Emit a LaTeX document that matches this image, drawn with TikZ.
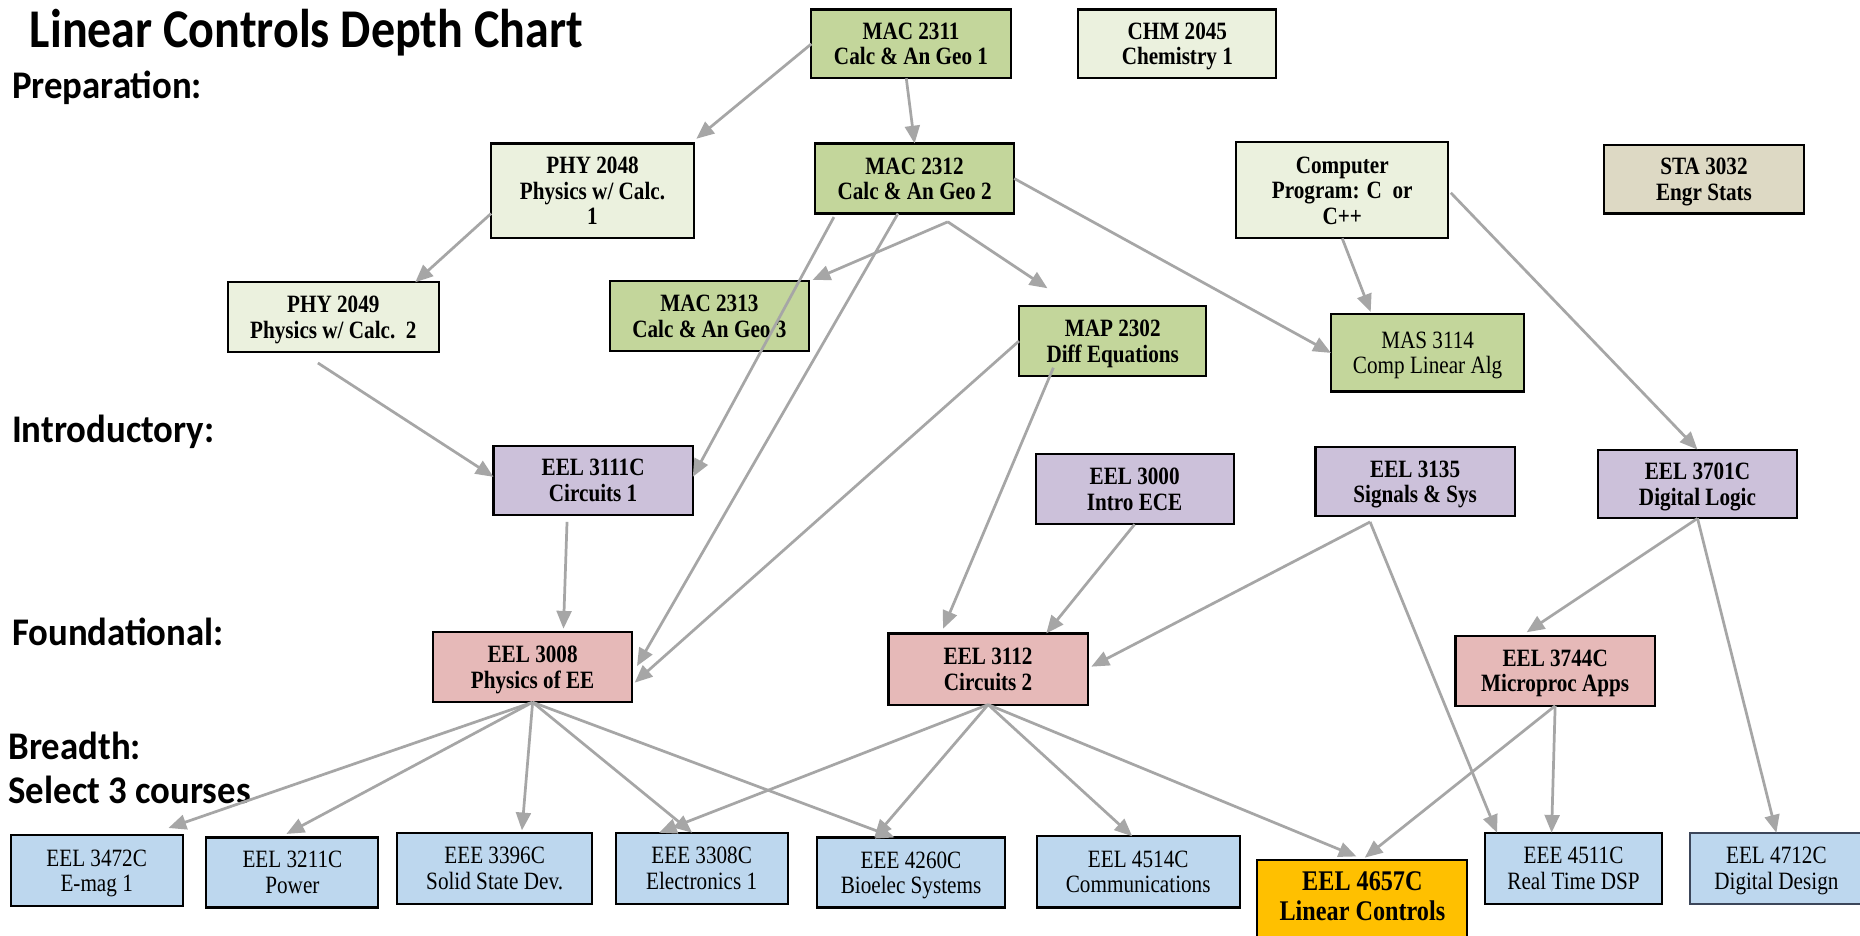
\documentclass[tikz,border=0pt]{standalone}
\usepackage{fontspec}
\usetikzlibrary{arrows.meta}
\newfontfamily\boxfont[FakeStretch=0.85]{Liberation Serif}
\newfontfamily\headfont[FakeStretch=0.88]{Carlito}
\newfontfamily\secfont[FakeStretch=0.94]{Carlito}
\definecolor{cgreen}{HTML}{C3D69B}
\definecolor{clight}{HTML}{EBF1DE}
\definecolor{ctan}{HTML}{DDD9C4}
\definecolor{cpurple}{HTML}{CCC1DA}
\definecolor{cpink}{HTML}{E6B9B8}
\definecolor{cblue}{HTML}{BDD7EE}
\definecolor{cgold}{HTML}{FFC000}
\definecolor{carrow}{HTML}{A6A6A6}
\definecolor{cbord}{HTML}{3C465A}
\tikzset{
  crs/.style={draw=black, line width=1.8pt, inner sep=0pt, outer sep=0pt, align=center, text depth=0pt,
    font=\boxfont\bfseries\fontsize{21}{21.5}\selectfont},
  crsn/.style={crs, font=\boxfont\fontsize{21}{21.5}\selectfont},
  lvl/.style={anchor=base west, inner sep=0pt, font=\secfont\bfseries\fontsize{33}{36}\selectfont},
  arr/.style={draw=carrow, line width=2.3pt, -{Triangle[length=15pt,width=12.5pt]}},
}
\begin{document}
\begin{tikzpicture}[x=1pt,y=-1pt]
\useasboundingbox[fill=white] (0,0) rectangle (1568,789);
% headings
\node[anchor=base west, inner sep=0pt, font=\headfont\bfseries\fontsize{46}{50}\selectfont] (title) at (25,40) {Linear Controls Depth Chart};
\node[lvl] (prep) at (10,83) {Preparation:};
\node[lvl] (intro) at (10,373) {Introductory:};
\node[lvl] (found) at (10,544) {Foundational:};
\node[lvl] (bread) at (7,640) {Breadth:};
\node[lvl] (sel) at (7,677) {Select 3 courses};
% preparation
\node[crs, fill=cgreen, minimum width=168pt, minimum height=58pt] (mac2311) at (768,37) {MAC 2311\\Calc \& An Geo 1};
\node[crs, fill=clight, minimum width=167pt, minimum height=58pt] (chm2045) at (992.5,37) {CHM 2045\\Chemistry 1};
\node[crs, fill=clight, minimum width=171pt, minimum height=80pt] (phy2048) at (499.5,161) {PHY 2048\\Physics w/ Calc.\\1};
\node[crs, fill=cgreen, minimum width=168pt, minimum height=59pt] (mac2312) at (771,150.5) {MAC 2312\\Calc \& An Geo 2};
\node[crs, fill=clight, minimum width=179pt, minimum height=81pt] (comp) at (1131.5,160.5) {Computer\\Program: C\ \ or\\C++};
\node[crs, fill=ctan, minimum width=169pt, minimum height=58pt] (sta) at (1436.5,151) {STA 3032\\Engr Stats};
\node[crs, fill=clight, minimum width=178pt, minimum height=59pt] (phy2049) at (281,267.5) {PHY 2049\\Physics w/ Calc.\ \ 2};
\node[crs, fill=cgreen, minimum width=168pt, minimum height=59pt] (mac2313) at (598,266.5) {MAC 2313\\Calc \& An Geo 3};
\node[crs, fill=cgreen, minimum width=158pt, minimum height=59pt] (map2302) at (938,287.5) {MAP 2302\\Diff Equations};
\node[crsn, fill=cgreen, minimum width=163pt, minimum height=65pt] (mas3114) at (1203.5,297.5) {MAS 3114\\Comp Linear Alg};
% introductory
\node[crs, fill=cpurple, minimum width=168pt, minimum height=58pt] (eel3111) at (500,405) {EEL 3111C\\Circuits 1};
\node[crs, fill=cpurple, minimum width=167pt, minimum height=59pt] (eel3000) at (956.5,412.5) {EEL 3000\\Intro ECE};
\node[crs, fill=cpurple, minimum width=168pt, minimum height=58pt] (eel3135) at (1193,406) {EEL 3135\\Signals \& Sys};
\node[crs, fill=cpurple, minimum width=168pt, minimum height=58pt] (eel3701) at (1431,408) {EEL 3701C\\Digital Logic};
% foundational
\node[crs, fill=cpink, minimum width=168pt, minimum height=59pt] (eel3008) at (449,562.5) {EEL 3008\\Physics of EE};
\node[crs, fill=cpink, minimum width=168pt, minimum height=60pt] (eel3112) at (833,564) {EEL 3112\\Circuits 2};
\node[crs, fill=cpink, minimum width=168pt, minimum height=59pt] (eel3744) at (1311,565.5) {EEL 3744C\\Microproc Apps};
% breadth
\node[crsn, fill=cblue, minimum width=145pt, minimum height=60pt] (b3472) at (81.5,734) {EEL 3472C\\E-mag 1};
\node[crsn, fill=cblue, minimum width=145pt, minimum height=59pt] (b3211) at (246.5,735.5) {EEL 3211C\\Power};
\node[crsn, fill=cblue, minimum width=164pt, minimum height=60pt] (b3396) at (417,732) {EEE 3396C\\Solid State Dev.};
\node[crsn, fill=cblue, minimum width=145pt, minimum height=60pt] (b3308) at (591.5,732) {EEE 3308C\\Electronics 1};
\node[crsn, fill=cblue, minimum width=158pt, minimum height=59pt] (b4260) at (768,735.5) {EEE 4260C\\Bioelec Systems};
\node[crsn, fill=cblue, minimum width=171pt, minimum height=60pt] (b4514) at (959.5,735) {EEL 4514C\\Communications};
\node[crs, fill=cgold, minimum width=177pt, minimum height=66pt, text depth=5pt, font=\boxfont\bfseries\fontsize{24}{25}\selectfont] (lc4657) at (1148.5,758) {EEL 4657C\\Linear Controls};
\node[crsn, fill=cblue, minimum width=149pt, minimum height=60pt] (b4511) at (1326.5,732) {EEE 4511C\\Real Time DSP};
\node[crsn, fill=cblue, draw=cbord, minimum width=145pt, minimum height=60pt] (b4712) at (1497.5,732) {EEL 4712C\\Digital Design};
% fork points
\coordinate (m2fork) at ([xshift=28pt,yshift=-7pt]mac2312.south);
\coordinate (s3fork) at ([xshift=-38pt,yshift=-5pt]eel3135.south);
% connectors
\draw[arr] (mac2311.west) -- ([xshift=2pt,yshift=4pt]phy2048.north east);
\draw[arr] ([xshift=-4pt]mac2311.south) -- (mac2312.north);
\draw[arr] ([yshift=-19pt]phy2048.west) -- ([xshift=69pt]phy2049.north);
\draw[arr] (m2fork) -- ([xshift=3pt,yshift=1pt]mac2313.north east);
\draw[arr] (m2fork) -- ([xshift=-55pt,yshift=15pt]map2302.north);
\draw[arr] (mac2312.east) -- (mas3114.west);
\draw[arr] ([xshift=-68pt,yshift=-3pt]mac2312.south) -- ([yshift=3pt]eel3111.east);
\draw[arr] ([xshift=-14pt]mac2312.south) -- ([xshift=4pt,yshift=1pt]eel3008.east);
\draw[arr] (map2302.west) -- ([xshift=2pt,yshift=-13pt]eel3008.east);
\draw[arr] ([xshift=-50pt,yshift=7pt]map2302.south) -- ([xshift=-38pt,yshift=4pt]eel3112.north);
\draw[arr] ([xshift=-13pt,yshift=-9pt]phy2049.south) -- ([yshift=3pt]eel3111.west);
\draw[arr] ([xshift=-22pt,yshift=-6pt]eel3111.south) -- ([xshift=26pt,yshift=3pt]eel3008.north);
\draw[arr] (eel3000.south) -- ([xshift=49pt]eel3112.north);
\draw[arr] (s3fork) -- ([xshift=3pt,yshift=2pt]eel3112.east);
\draw[arr] (s3fork) -- ([xshift=10pt]b4511.north west);
\draw[arr] (comp.south) -- ([xshift=-48pt,yshift=2pt]mas3114.north);
\draw[arr] ([xshift=2pt,yshift=-2pt]comp.east) -- (eel3701.north);
\draw[arr] (eel3701.south) -- ([xshift=-24pt,yshift=3pt]eel3744.north);
\draw[arr] (eel3701.south) -- (b4712.north);
\draw[arr] (eel3744.south) -- ([xshift=2pt,yshift=2pt]lc4657.north);
\draw[arr] (eel3744.south) -- ([xshift=-18.5pt]b4511.north);
\draw[arr] (eel3008.south) -- ([xshift=-12pt,yshift=6pt]b3472.north east);
\draw[arr] (eel3008.south) -- ([xshift=-5pt,yshift=3pt]b3211.north);
\draw[arr] (eel3008.south) -- ([xshift=23pt,yshift=2pt]b3396.north);
\draw[arr] (eel3008.south) -- ([xshift=-8pt]b3308.north);
\draw[arr] (eel3008.south) -- ([xshift=-14pt]b4260.north);
\draw[arr] (eel3112.south) -- ([xshift=-36pt]b3308.north);
\draw[arr] (eel3112.south) -- ([xshift=-31pt]b4260.north);
\draw[arr] (eel3112.south) -- ([xshift=-5pt]b4514.north);
\draw[arr] (eel3112.south) -- ([xshift=-5pt,yshift=3pt]lc4657.north);
\end{tikzpicture}
\end{document}
